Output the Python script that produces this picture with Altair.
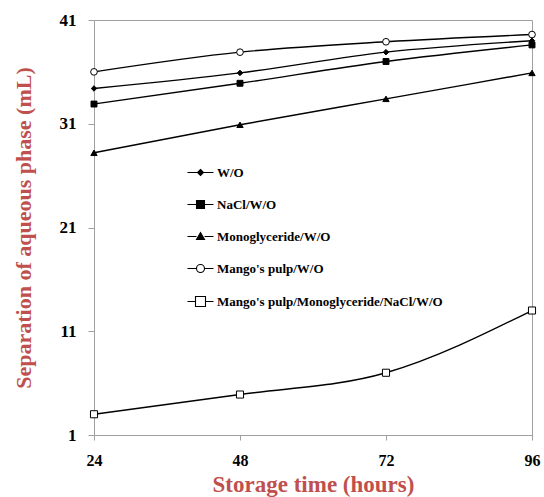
import altair as alt
import pandas as pd

hours = [24, 48, 72, 96]
series_names = [
    "W/O",
    "NaCl/W/O",
    "Monoglyceride/W/O",
    "Mango's pulp/W/O",
    "Mango's pulp/Monoglyceride/NaCl/W/O",
]
wo = [34.4, 35.9, 37.9, 39.0]
nacl = [32.9, 34.9, 37.0, 38.6]
mono = [28.2, 30.9, 33.4, 35.9]
mango = [36.0, 37.9, 38.9, 39.6]
mango_all = [3.0, 4.9, 7.0, 13.0]

y_ticks = [1, 11, 21, 31, 41]
x_ticks = [24, 48, 72, 96]

values = [wo, nacl, mono, mango, mango_all]
rows = []
for name, vals in zip(series_names, values):
    for h, v in zip(hours, vals):
        rows.append({"hours": h, "value": v, "series": name})
df = pd.DataFrame(rows)

shapes = ["diamond", "square", "triangle-up", "circle", "square"]
fills = ["black", "black", "black", "white", "white"]
sizes = [30, 50, 45, 75, 110]

# legend glyphs: line segment with marker (path units = pixels at symbol size 4)
legend_paths = [
    "M-13,0H-3M3,0H13M0,-3L3,0L0,3L-3,0Z",
    "M-13,0H-4M4,0H13M-4,-4H4V4H-4Z",
    "M-13,0H-4M4,0H13M0,-4L4,3L-4,3Z",
    "M-13,0H-4M4,0H13M-4,0A4,4,0,1,0,4,0A4,4,0,1,0,-4,0Z",
    "M-13,0H-5M5,0H13M-5,-5H5V5H-5Z",
]
path_expr = "[" + ",".join("'" + p + "'" for p in legend_paths) + "][datum.index]"
fill_expr = "[" + ",".join("'" + f + "'" for f in fills) + "][datum.index]"

serif = "Liberation Serif"
red = "#C0504D"
gray = "#A0A0A0"

x_enc = alt.X(
    "hours:Q",
    scale=alt.Scale(domain=[24, 96], nice=False, zero=False),
    axis=alt.Axis(
        values=x_ticks, title="Storage time (hours)", grid=False,
        domainColor=gray, tickColor=gray, tickSize=5,
        labelFont=serif, labelFontSize=16, labelFontWeight="bold", labelColor="black",
        labelPadding=12, labelFlush=False,
        titleFont=serif, titleFontSize=23, titleFontWeight="bold", titleColor=red,
        titleY=56, titleBaseline="alphabetic",
    ),
)
y_enc = alt.Y(
    "value:Q",
    scale=alt.Scale(domain=[1, 41], nice=False, zero=False),
    axis=alt.Axis(
        values=y_ticks, title="Separation of aqueous phase (mL)", grid=False,
        domainColor=gray, tickColor=gray, tickSize=6,
        labelFont=serif, labelFontSize=17, labelFontWeight="bold", labelColor="black",
        labelPadding=12,
        titleFont=serif, titleFontSize=22, titleFontWeight="bold", titleColor=red,
        titleX=-64, titleBaseline="alphabetic",
    ),
)

base = alt.Chart(df)

lines = base.mark_line(interpolate="monotone", strokeWidth=1.4).encode(
    x=x_enc,
    y=y_enc,
    color=alt.Color(
        "series:N",
        sort=series_names,
        scale=alt.Scale(range=["black"] * 5),
        legend=alt.Legend(
            orient="none", legendX=100, legendY=146, title=None, padding=0,
            symbolType={"expr": path_expr},
            symbolFillColor={"expr": fill_expr},
            symbolSize=4, symbolStrokeWidth=1.1, symbolStrokeColor="black",
            labelFont=serif, labelFontSize=13, labelFontWeight="bold", labelColor="black",
            labelLimit=0, labelOffset=10, rowPadding=18,
        ),
    ),
)

points = base.mark_point(filled=True, opacity=1, stroke="black", strokeWidth=1).encode(
    x=x_enc,
    y=y_enc,
    shape=alt.Shape("series:N", sort=series_names, scale=alt.Scale(range=shapes), legend=None),
    fill=alt.Fill("series:N", sort=series_names, scale=alt.Scale(range=fills), legend=None),
    size=alt.Size("series:N", sort=series_names, scale=alt.Scale(range=sizes), legend=None),
)

chart = (
    alt.layer(lines, points)
    .properties(
        width=438, height=415,
        autosize=alt.AutoSizeParams(type="none"),
        padding={"left": 94, "top": 20, "right": 12, "bottom": 62},
        background="white",
    )
    .configure_view(stroke=gray, strokeWidth=1)
)

chart.save("out.html", embed_options={"renderer": "svg", "actions": False})
